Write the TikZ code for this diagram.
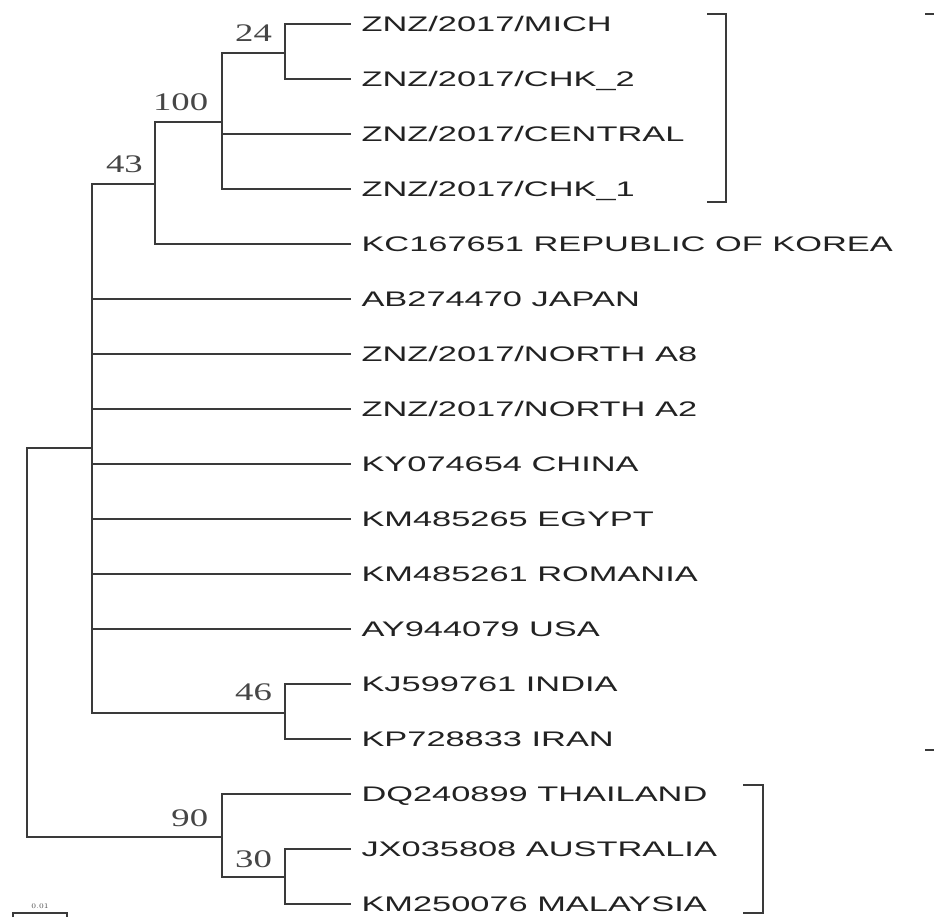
\documentclass[tikz,border=0pt]{standalone}
\usepackage{fontspec}
\usetikzlibrary{positioning,calc}
\newfontfamily\leaffont[FakeStretch=1.63]{Liberation Sans}
\newfontfamily\bootfont[FakeStretch=1.45]{Liberation Serif}
\definecolor{treegray}{RGB}{58,58,58}
\definecolor{labgray}{RGB}{34,34,34}
\definecolor{numgray}{RGB}{70,70,70}

\tikzset{
  branch/.style={draw=treegray,line width=1.6pt,line cap=rect},
  leaf/.style={anchor=west,inner ysep=2pt,inner xsep=8pt,text=labgray,text height=10.7pt,text depth=0pt,
    font=\leaffont\fontsize{15pt}{15pt}\selectfont},
  boot/.style={inner sep=0pt,text=numgray,font=\bootfont\fontsize{18pt}{18pt}\selectfont},
}

\begin{document}
\begin{tikzpicture}[x=0.025cm,y=-0.025cm]
  \useasboundingbox (0,0) rectangle (934,917);
  % internal nodes
  \coordinate (root) at (27,642);
  \coordinate (poly) at (92,448);
  \coordinate (n43) at (155,184);
  \coordinate (n100) at (222,122);
  \coordinate (n24) at (285,53);
  \coordinate (n46) at (285,713);
  \coordinate (n90) at (222,837);
  \coordinate (n30) at (285,877);
  % taxa
  \node[leaf] (l1) at (350,24) {ZNZ/2017/MICH};
  \node[leaf] (l2) at (350,79) {ZNZ/2017/CHK\_2};
  \node[leaf] (l3) at (350,134) {ZNZ/2017/CENTRAL};
  \node[leaf] (l4) at (350,189) {ZNZ/2017/CHK\_1};
  \node[leaf] (l5) at (350,244) {KC167651 REPUBLIC OF KOREA};
  \node[leaf] (l6) at (350,299) {AB274470 JAPAN};
  \node[leaf] (l7) at (350,354) {ZNZ/2017/NORTH A8};
  \node[leaf] (l8) at (350,409) {ZNZ/2017/NORTH A2};
  \node[leaf] (l9) at (350,464) {KY074654 CHINA};
  \node[leaf] (l10) at (350,519) {KM485265 EGYPT};
  \node[leaf] (l11) at (350,574) {KM485261 ROMANIA};
  \node[leaf] (l12) at (350,629) {AY944079 USA};
  \node[leaf] (l13) at (350,684) {KJ599761 INDIA};
  \node[leaf] (l14) at (350,739) {KP728833 IRAN};
  \node[leaf] (l15) at (350,794) {DQ240899 THAILAND};
  \node[leaf] (l16) at (350,849) {JX035808 AUSTRALIA};
  \node[leaf] (l17) at (350,904) {KM250076 MALAYSIA};
  % branches
  \draw[branch] (root) |- (poly);
  \draw[branch] (root) |- (n90);
  \draw[branch] (poly) |- (n43);
  \draw[branch] (poly) |- (n46);
  \foreach \t in {6,...,12}
    \draw[branch] (poly) |- (l\t.west);
  \draw[branch] (n43) |- (n100);
  \draw[branch] (n43) |- (l5.west);
  \draw[branch] (n100) |- (n24);
  \draw[branch] (n100) |- (l3.west);
  \draw[branch] (n100) |- (l4.west);
  \draw[branch] (n24) |- (l1.west);
  \draw[branch] (n24) |- (l2.west);
  \draw[branch] (n46) |- (l13.west);
  \draw[branch] (n46) |- (l14.west);
  \draw[branch] (n90) |- (l15.west);
  \draw[branch] (n90) |- (n30);
  \draw[branch] (n30) |- (l16.west);
  \draw[branch] (n30) |- (l17.west);
  % bootstrap values
  \node[boot,anchor=south east,above left=2.8mm and 3.2mm of n24] (b24) {24};
  \node[boot,anchor=south east,above left=2.8mm and 3.4mm of n100] (b100) {100};
  \node[boot,anchor=south east,above left=2.8mm and 3.0mm of n43] (b43) {43};
  \node[boot,anchor=south east,above left=3.0mm and 3.2mm of n46] (b46) {46};
  \node[boot,anchor=south east,above left=2.5mm and 3.4mm of n90] (b90) {90};
  \node[boot,anchor=south east,above left=2.3mm and 3.2mm of n30] (b30) {30};
  % clade brackets
  \draw[branch,line cap=butt] (707,14) -- (726,14) -- (726,202) -- (707,202);
  \draw[branch,line cap=butt] (743,785) -- (763,785) -- (763,913) -- (743,913);
  \draw[branch,line cap=butt] (925,14) -- (934,14);
  \draw[branch,line cap=butt] (925,750) -- (934,750);
  % scale bar
  \coordinate (sa) at (13,913);
  \coordinate (sb) at (67,913);
  \draw[treegray,line width=0.8pt] ([yshift=-1mm]sa) -- (sa) -- (sb) -- ([yshift=-1mm]sb);
  \node[inner sep=0pt,text=numgray,font=\fontsize{5pt}{5pt}\selectfont,above=1mm] (sl) at ($(sa)!0.5!(sb)$) {0.01};
\end{tikzpicture}
\end{document}
